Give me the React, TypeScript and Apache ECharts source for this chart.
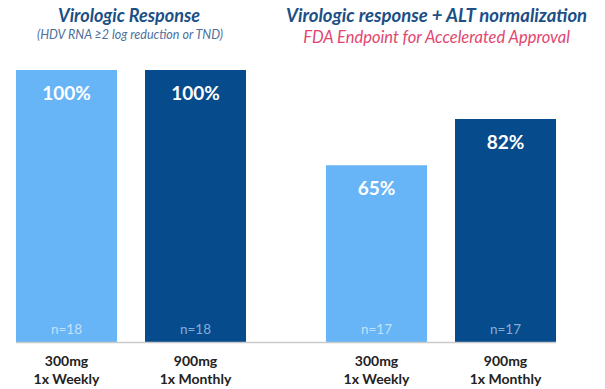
import React, { useEffect, useRef } from "react";
import * as echarts from "echarts";

const categories = ["300mg\n1x Weekly", "900mg\n1x Monthly"];
const virologicResponse = [100, 100];
const altNormalization = [65, 82];
const virologicN = [18, 18];
const altN = [17, 17];

const LIGHT = "#67b5f6";
const DARK = "#064b8c";
const N_COLORS = ["#dbedfd", "#a9c9e9"];
const FONT = "Lato";

function barData(values: number[]) {
  return values.map((v, i) => ({
    value: v,
    itemStyle: { color: i === 0 ? LIGHT : DARK },
  }));
}

function nData(ns: number[]) {
  return ns.map((n, i) => ({
    value: 0,
    label: { formatter: `n=${n}`, color: N_COLORS[i] },
  }));
}

export default function App() {
  const ref = useRef<HTMLDivElement>(null);

  useEffect(() => {
    if (!ref.current) return;
    const chart = echarts.init(ref.current, undefined, { renderer: "svg" });

    const xAxisBase = {
      type: "category" as const,
      data: categories,
      axisLine: { show: false },
      axisTick: { show: false },
      axisLabel: {
        color: "#222",
        fontFamily: FONT,
        fontWeight: "bold" as const,
        fontSize: 14,
        lineHeight: 18,
        margin: 9,
      },
    };
    const yAxisBase = {
      type: "value" as const,
      min: 0,
      max: 100,
      show: false,
    };
    const barLabel = {
      show: true,
      position: "insideTop" as const,
      distance: 13,
      color: "#fff",
      fontFamily: FONT,
      fontWeight: "bold" as const,
      fontSize: 19,
      formatter: "{c}%",
    };
    const nLabel = {
      show: true,
      position: "top" as const,
      distance: 6,
      fontFamily: FONT,
      fontSize: 13.5,
    };

    chart.setOption({
      animation: false,
      grid: [
        { left: 2, width: 258, top: 70, bottom: 47 },
        { left: 312, width: 258, top: 70, bottom: 47 },
      ],
      xAxis: [
        { ...xAxisBase, gridIndex: 0 },
        { ...xAxisBase, gridIndex: 1 },
      ],
      yAxis: [
        { ...yAxisBase, gridIndex: 0 },
        { ...yAxisBase, gridIndex: 1 },
      ],
      series: [
        {
          type: "bar",
          xAxisIndex: 0,
          yAxisIndex: 0,
          barWidth: 101,
          data: barData(virologicResponse),
          label: barLabel,
        },
        {
          type: "bar",
          xAxisIndex: 1,
          yAxisIndex: 1,
          barWidth: 101,
          data: barData(altNormalization),
          label: barLabel,
        },
        {
          type: "scatter",
          xAxisIndex: 0,
          yAxisIndex: 0,
          symbolSize: 0,
          data: nData(virologicN),
          label: nLabel,
          z: 5,
        },
        {
          type: "scatter",
          xAxisIndex: 1,
          yAxisIndex: 1,
          symbolSize: 0,
          data: nData(altN),
          label: nLabel,
          z: 5,
        },
      ],
      graphic: [
        {
          type: "line",
          shape: { x1: 16, y1: 342.5, x2: 556, y2: 342.5 },
          style: { stroke: "#c9c9c9", lineWidth: 1.5 },
          z: 10,
        },
        {
          type: "text",
          x: 129,
          y: 15,
          style: {
            text: "Virologic Response",
            fill: "#1c4f86",
            font: `italic bold 18px ${FONT}`,
            textAlign: "center",
            textVerticalAlign: "middle",
          },
        },
        {
          type: "text",
          x: 130,
          y: 34,
          style: {
            text: "(HDV RNA ≥2 log reduction or TND)",
            fill: "#4d6f9c",
            font: `italic 12.5px ${FONT}`,
            textAlign: "center",
            textVerticalAlign: "middle",
          },
        },
        {
          type: "text",
          x: 436.5,
          y: 15,
          style: {
            text: "Virologic response + ALT normalization",
            fill: "#1c4f86",
            font: `italic bold 18.5px ${FONT}`,
            textAlign: "center",
            textVerticalAlign: "middle",
          },
        },
        {
          type: "text",
          x: 436.5,
          y: 37,
          style: {
            text: "FDA Endpoint for Accelerated Approval",
            fill: "#e2466f",
            font: `italic 16.5px ${FONT}`,
            textAlign: "center",
            textVerticalAlign: "middle",
          },
        },
      ],
    });

    return () => chart.dispose();
  }, []);

  return (
    <div
      ref={ref}
      style={{ position: "absolute", left: 0, top: 0, width: 605, height: 389, background: "#fff" }}
    />
  );
}
